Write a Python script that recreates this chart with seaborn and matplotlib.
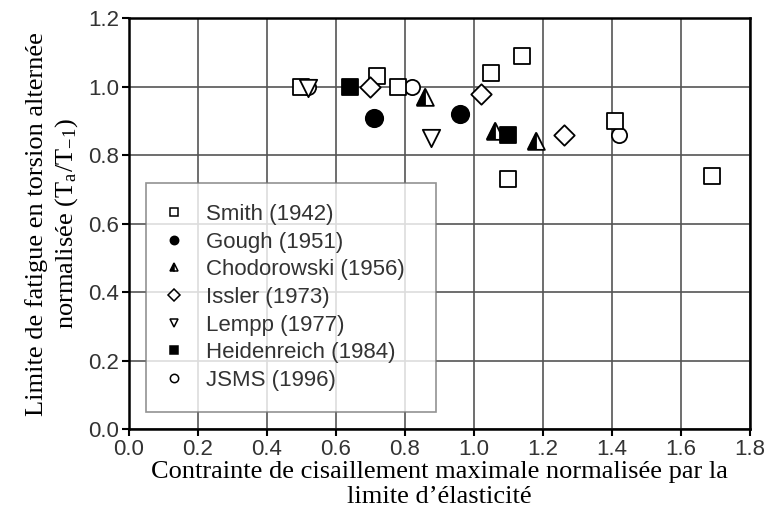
import matplotlib
matplotlib.use("Agg")
import matplotlib.pyplot as plt
from matplotlib.lines import Line2D
from matplotlib.markers import MarkerStyle
import seaborn as sns
import pandas as pd

# data
smith_x = [0.50, 0.72, 0.78, 1.05, 1.14, 1.10, 1.41, 1.69]
smith_y = [1.00, 1.03, 1.00, 1.04, 1.09, 0.73, 0.90, 0.74]
gough_x = [0.71, 0.96]
gough_y = [0.91, 0.92]
chodo_x = [0.86, 1.06, 1.18]
chodo_y = [0.97, 0.87, 0.84]
issler_x = [0.70, 1.02, 1.26]
issler_y = [1.00, 0.98, 0.86]
lempp_x = [0.52, 0.875]
lempp_y = [0.995, 0.85]
heiden_x = [0.64, 1.10]
heiden_y = [1.00, 0.86]
jsms_x = [0.52, 0.82, 1.42]
jsms_y = [1.00, 1.00, 0.86]

labels = ["Smith (1942)", "Gough (1951)", "Chodorowski (1956)", "Issler (1973)",
          "Lempp (1977)", "Heidenreich (1984)", "JSMS (1996)"]

sns.set_theme(style="ticks")
plt.rcParams["font.family"] = ["Liberation Sans", "DejaVu Sans"]
plt.rcParams["mathtext.fontset"] = "stix"

fig, ax = plt.subplots(figsize=(7.66, 5.30), dpi=100)
fig.subplots_adjust(left=0.168, right=0.979, top=0.9655, bottom=0.1906)

ew = 1.3
sz = 120

def pts(x, y):
    return pd.DataFrame({"x": x, "y": y})

sns.scatterplot(data=pts(jsms_x, jsms_y), x="x", y="y", ax=ax, marker="o", s=sz,
                facecolor="white", edgecolor="black", linewidth=ew, zorder=3)
sns.scatterplot(data=pts(smith_x, smith_y), x="x", y="y", ax=ax, marker="s", s=sz,
                facecolor="white", edgecolor="black", linewidth=ew, zorder=3)
sns.scatterplot(data=pts(gough_x, gough_y), x="x", y="y", ax=ax, marker="o", s=sz * 1.3,
                facecolor="black", edgecolor="black", linewidth=ew, zorder=3)
sns.scatterplot(data=pts(chodo_x, chodo_y), x="x", y="y", ax=ax, marker="^", s=sz * 1.2,
                facecolor="white", edgecolor="black", linewidth=ew, zorder=3)
sns.scatterplot(data=pts(chodo_x, chodo_y), x="x", y="y", ax=ax,
                marker=MarkerStyle("^", fillstyle="left"), s=sz * 1.2,
                facecolor="black", edgecolor="black", linewidth=ew, zorder=4)
sns.scatterplot(data=pts(issler_x, issler_y), x="x", y="y", ax=ax, marker="D", s=sz * 0.9,
                facecolor="white", edgecolor="black", linewidth=ew, zorder=3)
sns.scatterplot(data=pts(heiden_x, heiden_y), x="x", y="y", ax=ax, marker="s", s=sz,
                facecolor="black", edgecolor="black", linewidth=ew, zorder=3)
sns.scatterplot(data=pts(lempp_x, lempp_y), x="x", y="y", ax=ax, marker="v", s=sz * 1.3,
                facecolor="white", edgecolor="black", linewidth=ew, zorder=5)

ax.set_xlim(0, 1.8)
ax.set_ylim(0, 1.2)
ax.set_xticks([i * 0.2 for i in range(10)])
ax.set_yticks([i * 0.2 for i in range(7)])
ax.xaxis.set_major_formatter(plt.FormatStrFormatter("%.1f"))
ax.yaxis.set_major_formatter(plt.FormatStrFormatter("%.1f"))
ax.grid(True, color="#555555", linewidth=1.2)
ax.set_axisbelow(True)
for sp in ax.spines.values():
    sp.set_color("black")
    sp.set_linewidth(1.8)
ax.tick_params(direction="out", length=5, width=1.5, color="black",
               labelsize=16, labelcolor="#333333", pad=2)

ax.set_xlabel("Contrainte de cisaillement maximale normalisée par la\nlimite d\u2019élasticité",
              family="Liberation Serif", fontsize=19, color="black", labelpad=1,
              linespacing=1.15)
ax.set_ylabel("Limite de fatigue en torsion alternée\nnormalisée (T$_{\\mathregular{a}}$/T$_{\\mathregular{-1}}$)",
              family="Liberation Serif", fontsize=19, color="black", labelpad=6,
              linespacing=1.25)

def h(marker, fc, fs="full"):
    return Line2D([], [], linestyle="none", marker=marker, markersize=6,
                  markerfacecolor=fc, markerfacecoloralt="white",
                  markeredgecolor="black", markeredgewidth=1.1, fillstyle=fs)

handles = [h("s", "white"), h("o", "black"), h("^", "black", "left"), h("D", "white"),
           h("v", "white"), h("s", "black"), h("o", "white")]
leg = ax.legend(handles, labels, loc="lower left",
                bbox_to_anchor=(0.0279, 0.0414, 0.4665, 0.5), mode="expand",
                fontsize=16, frameon=True, fancybox=False, labelspacing=0.3,
                handletextpad=1.17, borderpad=0.95, handlelength=0.6,
                borderaxespad=0, labelcolor="#333333")
leg.get_frame().set_edgecolor("#777777")
leg.get_frame().set_linewidth(1.2)

plt.savefig("out.png", dpi=100)
